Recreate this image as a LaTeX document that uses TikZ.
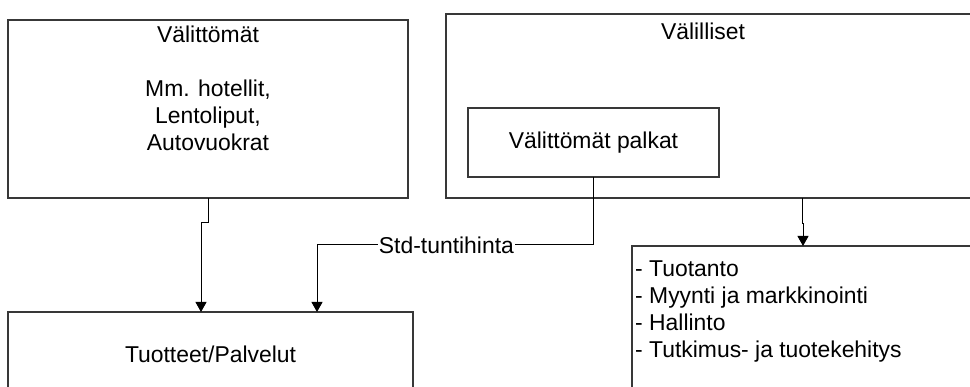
\documentclass[tikz,border=0pt]{standalone}
\usepackage{fontspec}
\setmainfont{Liberation Sans}
\usetikzlibrary{arrows.meta,calc}

\begin{document}
\begin{tikzpicture}[x=1pt,y=-1pt,
  box/.style={draw=black!78, line width=1.3pt, inner sep=0pt, outer sep=0pt, anchor=north west},
  conn/.style={draw=black, line width=1pt, -{Triangle[length=10pt,width=11pt]}},
  txt/.style={font=\fontsize{22.9}{27}\selectfont, inner sep=0pt},
]
\useasboundingbox (0,0) rectangle (970,387);
\clip (0,0) rectangle (970,387);
\fill[white] (0,0) rectangle (970,387);

% cost boxes
\node[box, minimum width=400pt, minimum height=178pt] (direct) at (8,20) {};
\node[box, minimum width=560pt, minimum height=184pt] (indirect) at (446,14) {};
\node[box, txt, minimum width=251pt, minimum height=69pt] (wages) at (468,108) {Välittömät palkat};
\node[box, txt, minimum width=405pt, minimum height=84pt] (prod) at (8,312) {Tuotteet/Palvelut};
\node[box, minimum width=360pt, minimum height=160pt] (dept) at (632,246) {};

% box texts
\node[txt, anchor=north, align=center] (directtext) at (208,25.3)
  {Välittömät\\[27pt]Mm. hotellit,\\Lentoliput,\\Autovuokrat};
\node[txt, anchor=base] (indirecttext) at (703,40) {Välilliset};
\node[txt, anchor=north west, align=left] (depttext) at (635,260.6)
  {- Tuotanto\\- Myynti ja markkinointi\\- Hallinto\\- Tutkimus- ja tuotekehitys};

% connectors
\draw[conn] (direct.south) -- ++(0,25) -| ($(prod.north west)+(193,0)$);
\draw[conn] (wages.south) -- ++(0,68)
  -| node[pos=0.266, txt, fill=white, inner sep=1pt] {Std-tuntihinta}
  ($(prod.north west)+(309,0)$);
\draw[conn] ($(indirect.south west)+(356,0)$) -- ++(0,26) -| ($(dept.north west)+(171,0)$);
\end{tikzpicture}
\end{document}
